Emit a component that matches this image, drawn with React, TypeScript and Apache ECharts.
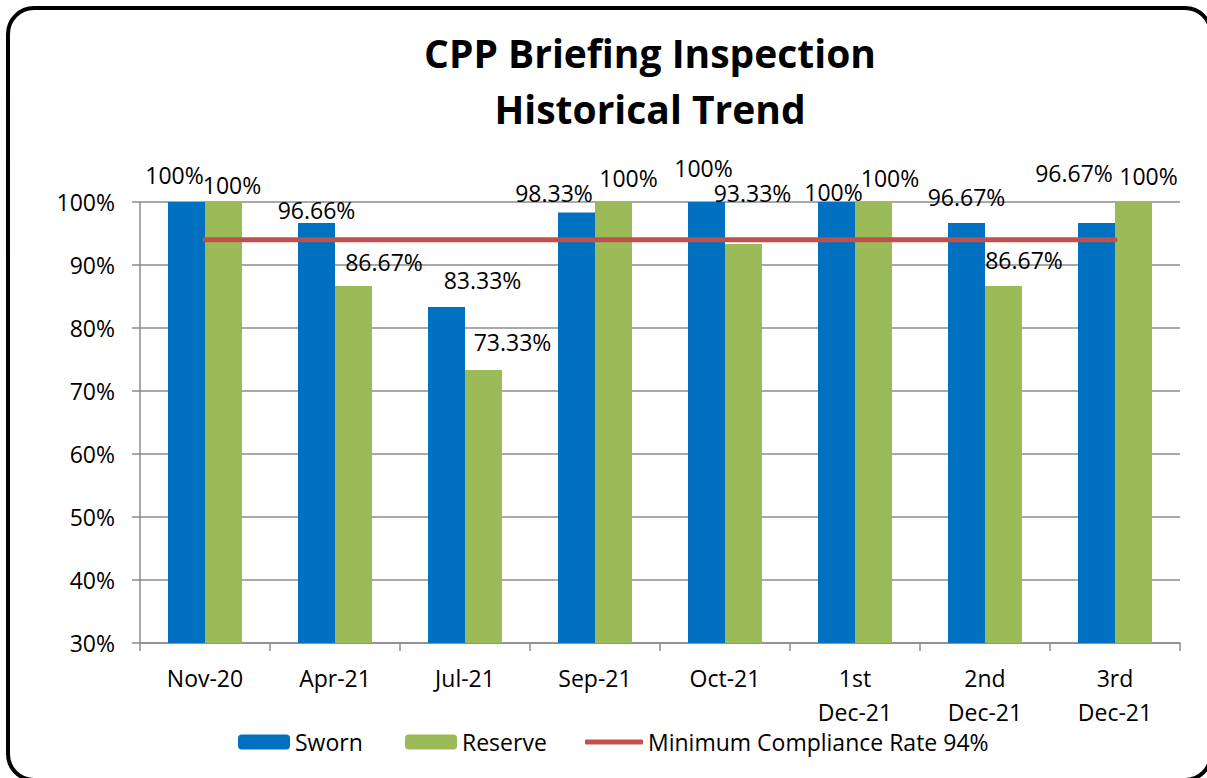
import React, { useEffect, useRef } from "react";
import * as echarts from "echarts";

const categories = ["Nov-20", "Apr-21", "Jul-21", "Sep-21", "Oct-21", "1st\nDec-21", "2nd\nDec-21", "3rd\nDec-21"];
const sworn = [100, 96.66, 83.33, 98.33, 100, 100, 96.67, 96.67];
const reserve = [100, 86.67, 73.33, 100, 93.33, 100, 86.67, 100];
const minimumRate = [94, 94, 94, 94, 94, 94, 94, 94];
const seriesNames = ["Sworn", "Reserve", "Minimum Compliance Rate 94%"];

// label nudges [dx, distance of label centre above bar top]
const swornLabelNudge = [[-12, 27], [0, 13], [36, 27], [-22.5, 20], [-3, 34], [-3, 10], [0, 26], [-22.5, 50]];
const reserveLabelNudge = [[8.5, 17], [30.5, 24], [29, 28], [15, 24], [9, 51], [16.5, 24], [20.5, 26], [15, 26]];

const FONT = "'Open Sans', 'Noto Sans', sans-serif";
const FS = 23;

const fmt = (v: number) => (v === 100 ? "100" : v.toFixed(2)) + "%";

function withLabels(values: number[], nudges: number[][]) {
  return values.map((v, i) => ({
    value: v,
    label: { offset: [nudges[i][0], -nudges[i][1] + FS / 2] },
  }));
}

export default function App() {
  const ref = useRef<HTMLDivElement>(null);
  useEffect(() => {
    if (!ref.current) return;
    const chart = echarts.init(ref.current, undefined, { renderer: "svg" });
    const labelStyle = {
      show: true,
      position: "top",
      distance: 0,
      color: "#000",
      fontSize: FS,
      lineHeight: FS,
      fontFamily: FONT,
      formatter: (p: any) => fmt(p.value),
    };
    const legendText = { fontSize: FS, fontFamily: FONT, color: "#000" };
    chart.setOption({
      animation: false,
      backgroundColor: "#fff",
      title: {
        text: "CPP Briefing Inspection\nHistorical Trend",
        left: 650,
        textAlign: "center",
        top: 24,
        padding: 0,
        textStyle: {
          fontFamily: FONT,
          fontWeight: "bold",
          fontSize: 39,
          lineHeight: 56,
          color: "#000",
        },
      },
      graphic: [
        {
          type: "rect",
          shape: { x: 8, y: 8, width: 1203, height: 772, r: 26 },
          style: { fill: "none", stroke: "#000", lineWidth: 4 },
          silent: true,
        },
      ],
      legend: [
        { data: [seriesNames[0]], left: 238, top: 730.5, itemWidth: 52, itemHeight: 15, itemGap: 0, padding: 0, textStyle: legendText },
        { data: [seriesNames[1]], left: 405, top: 730.5, itemWidth: 52, itemHeight: 15, itemGap: 0, padding: 0, textStyle: legendText },
        {
          data: [{ name: seriesNames[2], icon: "roundRect" }],
          left: 585,
          top: 730.5,
          itemWidth: 58,
          itemHeight: 5,
          itemGap: 0,
          padding: 0,
          textStyle: legendText,
        },
      ],
      grid: { left: 140, right: 27, top: 202, bottom: 135, containLabel: false },
      xAxis: {
        type: "category",
        data: categories,
        boundaryGap: true,
        axisLine: { show: true, lineStyle: { color: "#8c8c8c", width: 1.5 } },
        axisTick: { show: true, length: 8, alignWithLabel: false, lineStyle: { color: "#8c8c8c", width: 1.5 } },
        axisLabel: { color: "#000", fontSize: FS, fontFamily: FONT, margin: 18, lineHeight: 34, interval: 0 },
        splitLine: { show: false },
      },
      yAxis: {
        type: "value",
        min: 30,
        max: 100,
        interval: 10,
        axisLine: { show: true, lineStyle: { color: "#8c8c8c", width: 1.5 } },
        axisTick: { show: true, length: 8, lineStyle: { color: "#8c8c8c", width: 1.5 } },
        axisLabel: { color: "#000", fontSize: FS, fontFamily: FONT, margin: 25, formatter: "{value}%" },
        splitLine: { show: true, lineStyle: { color: "#8c8c8c", width: 1.5 } },
      },
      series: [
        {
          name: seriesNames[0],
          type: "bar",
          data: withLabels(sworn, swornLabelNudge),
          barWidth: 37,
          barGap: "0%",
          itemStyle: { color: "#0070C0" },
          label: labelStyle,
          z: 2,
        },
        {
          name: seriesNames[1],
          type: "bar",
          data: withLabels(reserve, reserveLabelNudge),
          barWidth: 37,
          barGap: "0%",
          itemStyle: { color: "#9BBB59" },
          label: labelStyle,
          z: 2,
        },
        {
          name: seriesNames[2],
          type: "line",
          data: minimumRate,
          symbol: "none",
          lineStyle: { color: "#C0504D", width: 5, cap: "round" },
          itemStyle: { color: "#C0504D" },
          z: 3,
        },
      ],
    });
    return () => chart.dispose();
  }, []);
  return (
    <div
      ref={ref}
      style={{ position: "absolute", left: 0, top: 0, width: 1207, height: 778 }}
    />
  );
}
